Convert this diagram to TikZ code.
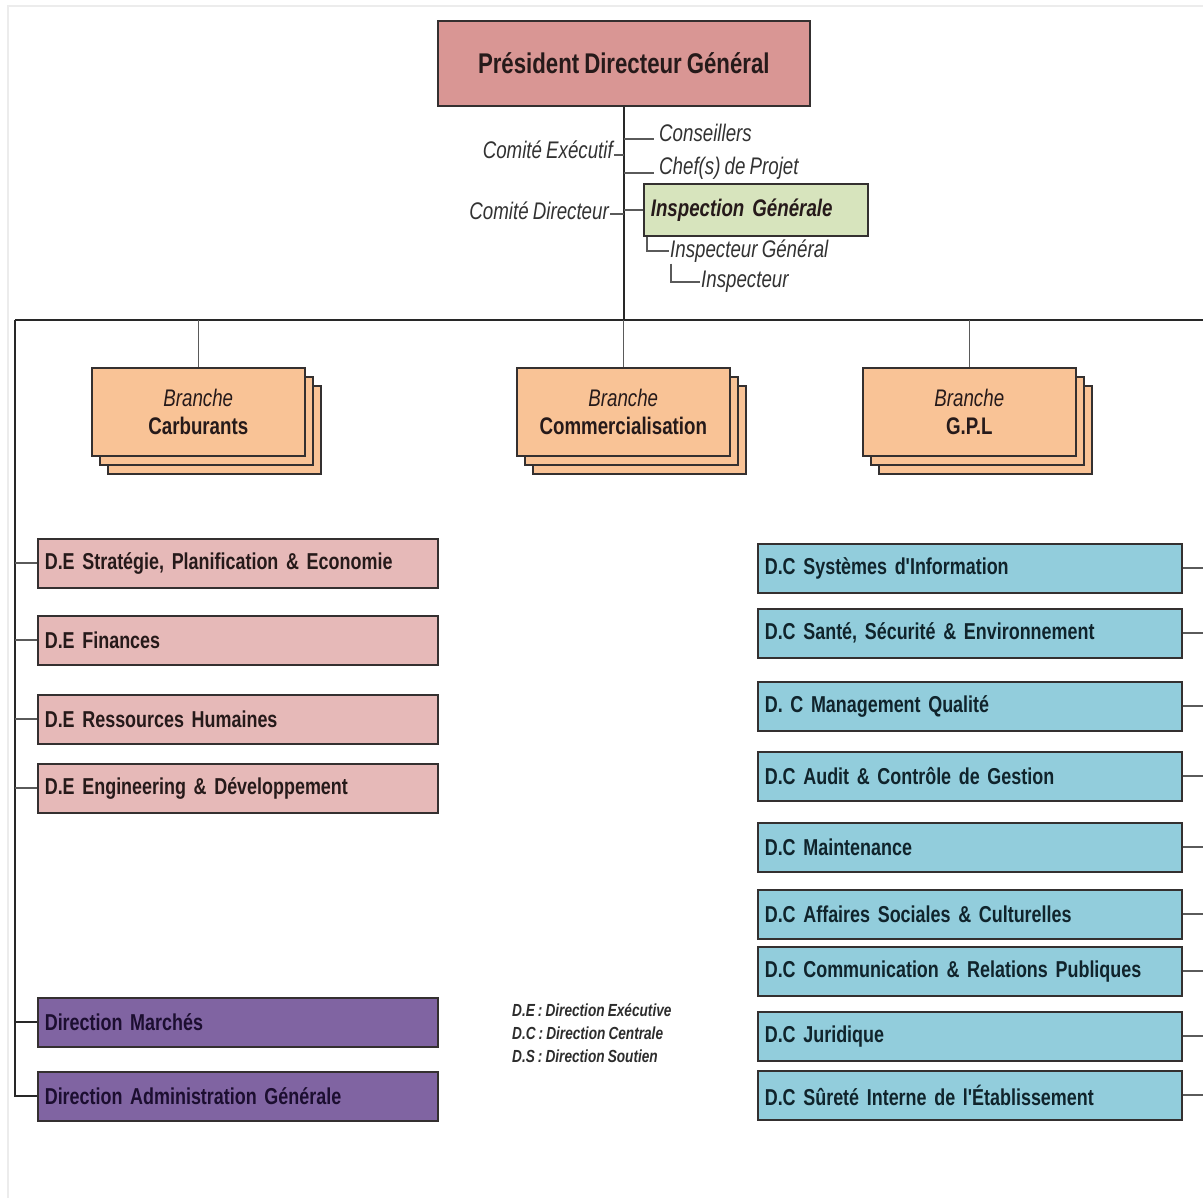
\documentclass[tikz,border=0pt]{standalone}
\usepackage{fontspec}
\newfontfamily\orgfont{Liberation Sans}[FakeStretch=0.78,WordSpace=0.8]
\usepackage{tikz}
\usetikzlibrary{calc,shadows}
\usepackage{xcolor}
\definecolor{boxline}{RGB}{52,48,48}
\definecolor{conn}{RGB}{40,40,40}
\definecolor{tick}{RGB}{90,90,90}
\definecolor{frame}{RGB}{236,236,236}
\definecolor{pdgfill}{RGB}{217,150,148}
\definecolor{igfill}{RGB}{215,228,189}
\definecolor{brfill}{RGB}{249,195,150}
\definecolor{defill}{RGB}{230,185,184}
\definecolor{dsfill}{RGB}{128,100,162}
\definecolor{dcfill}{RGB}{146,205,220}
\definecolor{ink}{RGB}{38,26,26}
\tikzset{
  obox/.style={draw=boxline,line width=1.6pt,anchor=north west,inner sep=6pt,
    font=\orgfont\bfseries\fontsize{23}{25}\selectfont,text=ink},
  rowbox/.style={obox,minimum width=400pt,minimum height=49pt,text width=386pt,align=left},
  debox/.style={rowbox,fill=defill},
  dsbox/.style={rowbox,fill=dsfill,text={rgb,255:red,28;green,14;blue,48}},
  dcbox/.style={rowbox,fill=dcfill,minimum width=424pt,text width=410pt,text={rgb,255:red,16;green,36;blue,44}},
  brbox/.style={obox,fill=brfill,minimum width=213pt,minimum height=88pt,align=center,
    font=\orgfont\bfseries\fontsize{24}{28}\selectfont,
    double copy shadow={shadow xshift=8pt,shadow yshift=-9pt,fill=brfill,draw=boxline,line width=1.6pt}},
  side/.style={inner sep=1pt,font=\orgfont\itshape\fontsize{24}{26}\selectfont,text={rgb,255:red,50;green,50;blue,50}},
  trunk/.style={conn,line width=2pt},
  twig/.style={tick,line width=2pt},
}
\begin{document}
\begin{tikzpicture}[x=1pt,y=-1pt]
  \useasboundingbox (0,0) rectangle (1203,1198);
  \draw[frame,line width=2pt] (8,1198) -- (8,6) -- (1203,6);
  % top of the chart
  \node[obox,fill=pdgfill,minimum width=372pt,minimum height=85pt,
        font=\orgfont\bfseries\fontsize{28.5}{30}\selectfont] (pdg) at (437,20) {Président Directeur Général};
  \coordinate (busL) at (15,320);
  \coordinate (busR) at (1203,320);
  \draw[trunk] (pdg.south) -- (pdg.south |- busL);
  \draw[trunk] (busL) -- (busR);
  \node[side,anchor=west] (cons) at (658,133) {Conseillers};
  \node[side,anchor=west] (chef) at (658,168) {Chef(s) de Projet};
  \node[side,anchor=east] (cex) at (614,150) {Comité Exécutif};
  \node[side,anchor=east] (cdir) at (610,211) {Comité Directeur};
  \draw[twig] (pdg.south |- cons.west) ++(0,6) -- ++(30,0);
  \draw[twig] (pdg.south |- chef.west) ++(0,5) -- ++(30,0);
  \draw[twig] ([yshift=-5pt]cex.east) -- ([yshift=-5pt]cex.east -| pdg.south);
  \draw[twig] ([yshift=-3pt]cdir.east) -- ([yshift=-3pt]cdir.east -| pdg.south);
  \node[obox,fill=igfill,minimum width=224pt,minimum height=52pt,text width=210pt,align=left,
        font=\orgfont\bfseries\itshape\fontsize{24}{26}\selectfont] (ig) at (643,183) {Inspection Générale};
  \draw[twig] (ig.west -| pdg.south) -- (ig.west);
  \node[side,anchor=west] (igen) at (669,251) {Inspecteur Général};
  \node[side,anchor=west] (insp) at (700,282) {Inspecteur};
  \draw[twig] ([xshift=4pt]ig.south west) |- (igen.west);
  \draw[twig] ([xshift=2pt]igen.south west) |- (insp.west);
  % branches
  \foreach \x/\n/\lab in {91/carb/Carburants,516/comm/Commercialisation,862/gpl/G.P.L}
    {\node[brbox] (\n) at (\x,367) {{\mdseries\itshape Branche}\\\lab};
     \draw[twig,line width=1.6pt] (busL -| \n.north) -- (\n.north);}
  % left column
  \draw[trunk] (busL) -- (15,1097);
  \foreach \y/\n/\lab in {538/strat/{D.E Stratégie, Planification \& Economie},615/fin/D.E Finances,
                          694/rh/D.E Ressources Humaines,763/eng/D.E Engineering \& Développement}
    {\node[debox] (\n) at (37,\y) {\lab};
     \draw[twig] (busL |- \n.west) -- (\n.west);}
  \foreach \y/\n/\lab in {997/marc/Direction Marchés,1071/adm/Direction Administration Générale}
    {\node[dsbox] (\n) at (37,\y) {\lab};
     \draw[trunk] (busL |- \n.west) -- (\n.west);}
  % right column
  \foreach \y/\n/\lab in {543/si/D.C Systèmes d'Information,608/hse/{D.C Santé, Sécurité \& Environnement},
                          681/mq/D. C Management Qualité,751/acg/D.C Audit \& Contrôle de Gestion,
                          822/maint/D.C Maintenance,889/asc/D.C Affaires Sociales \& Culturelles,
                          946/crp/D.C Communication \& Relations Publiques,1011/jur/D.C Juridique,
                          1070/sur/D.C Sûreté Interne de l'Établissement}
    {\node[dcbox] (\n) at (757,\y) {\lab};
     \draw[twig] (\n.east) -- (busR |- \n.east);}
  % legend
  \node[anchor=north west,align=left,inner sep=0pt,text={rgb,255:red,45;green,45;blue,45},
        font=\orgfont\bfseries\itshape\fontsize{17.5}{23}\selectfont] (lgd) at (512,1003)
    {D.E : Direction Exécutive\\D.C : Direction Centrale\\D.S : Direction Soutien};
\end{tikzpicture}
\end{document}
